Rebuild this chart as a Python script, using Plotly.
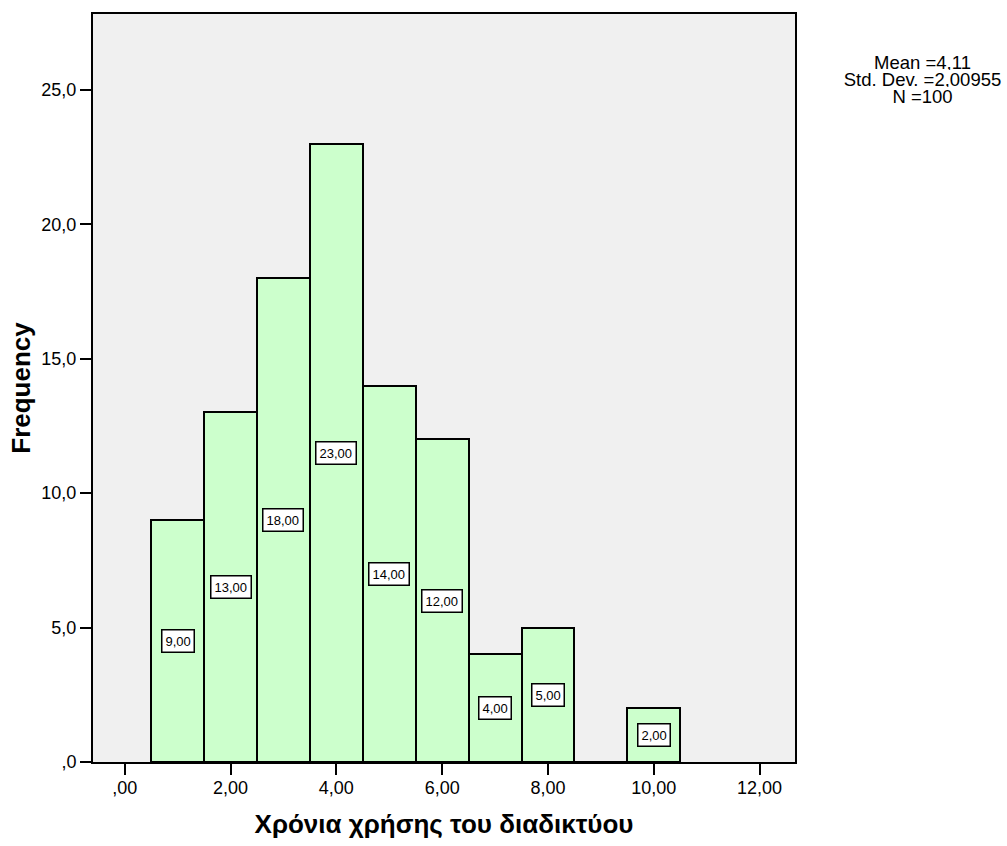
import plotly.graph_objects as go

# Data
bin_centers = [1, 2, 3, 4, 5, 6, 7, 8, 9, 10]
frequencies = [9, 13, 18, 23, 14, 12, 4, 5, 0, 2]
x_tick_vals = [0, 2, 4, 6, 8, 10, 12]
x_tick_text = [",00", "2,00", "4,00", "6,00", "8,00", "10,00", "12,00"]
y_tick_vals = [0, 5, 10, 15, 20, 25]
y_tick_text = [",0", "5,0", "10,0", "15,0", "20,0", "25,0"]
stats_lines = ["Mean =4,11", "Std. Dev. =2,00955", "N =100"]

FONT = "Liberation Sans, Arial, sans-serif"

W, H = 1007, 846
L, R, T, B = 93, 212, 13, 83
PW, PH = W - L - R, H - T - B

fig = go.Figure()
fig.add_trace(go.Bar(
    x=bin_centers, y=frequencies, width=1,
    marker=dict(color="#ccffcc", line=dict(color="black", width=2)),
    hoverinfo="x+y", showlegend=False,
))

annotations = []
for xc, f in zip(bin_centers, frequencies):
    if f > 0:
        annotations.append(dict(
            x=xc, y=f / 2, xref="x", yref="y",
            text=f"{f:.2f}".replace(".", ","), showarrow=False,
            font=dict(family=FONT, size=13, color="black"),
            bgcolor="white", bordercolor="black", borderwidth=1.5, borderpad=3,
        ))

# statistics text block, one annotation per line (pixel centres converted to paper coords)
stat_line_y_px = [61, 78, 95]
for line, ypx in zip(stats_lines, stat_line_y_px):
    annotations.append(dict(
        x=(922 - L) / PW, y=1 - (ypx - T) / PH,
        xref="paper", yref="paper", xanchor="center", yanchor="middle",
        text=line, showarrow=False, align="center", height=16, width=175,
        font=dict(family=FONT, size=18.5, color="black"),
    ))

fig.update_layout(
    width=W, height=H,
    margin=dict(l=L, r=R, t=T, b=B),
    paper_bgcolor="white", plot_bgcolor="#f0f0f0",
    font=dict(family=FONT, color="black"),
    bargap=0,
    annotations=annotations,
    xaxis=dict(
        range=[-0.6, 12.67], tickvals=x_tick_vals, ticktext=x_tick_text,
        showgrid=False, zeroline=False, showline=True, linecolor="black", linewidth=2,
        mirror=True, ticks="outside", ticklen=11, tickwidth=2, tickcolor="black",
        ticklabelstandoff=-3,
        tickfont=dict(family=FONT, size=18, color="black"),
        title=dict(text="<b>Χρόνια χρήσης του διαδικτύου</b>", standoff=18,
                   font=dict(family=FONT, size=26, color="black")),
    ),
    yaxis=dict(
        range=[0, 27.82], tickvals=y_tick_vals, ticktext=y_tick_text,
        showgrid=False, zeroline=False, showline=True, linecolor="black", linewidth=2,
        mirror=True, ticks="outside", ticklen=11, tickwidth=2, tickcolor="black",
        tickfont=dict(family=FONT, size=18, color="black"),
        title=dict(text="<b>Frequency</b>", standoff=3,
                   font=dict(family=FONT, size=26, color="black")),
    ),
)

fig.write_html("out.html", config={"displayModeBar": False},
               post_script="document.body.style.margin='0';")
